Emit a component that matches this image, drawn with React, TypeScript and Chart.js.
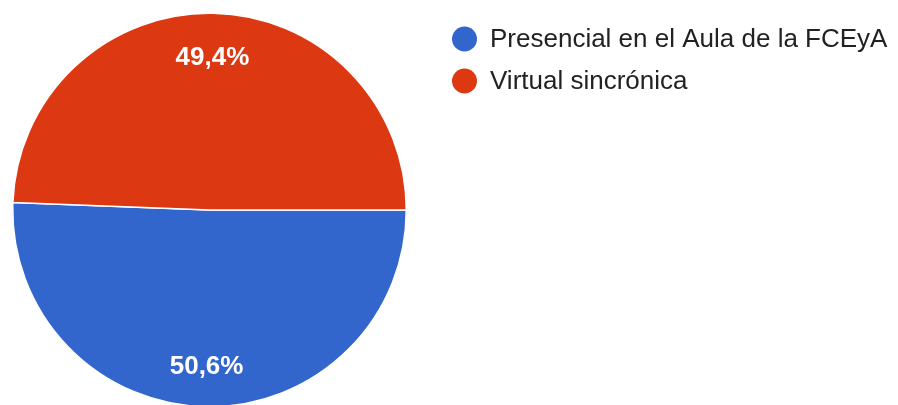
import React, { useEffect, useRef } from "react";
import { Chart, registerables } from "chart.js";

Chart.register(...registerables);

const categories: string[] = ["Presencial en el Aula de la FCEyA", "Virtual sincrónica"];
const values: number[] = [50.6, 49.4];
const colors: string[] = ["#3366cc", "#dc3912"];

const sliceLabelPlugin = {
  id: "sliceLabels",
  afterDatasetsDraw(chart: any) {
    const ctx = chart.ctx;
    const meta = chart.getDatasetMeta(0);
    const data = chart.data.datasets[0].data as number[];
    const total = data.reduce((a, b) => a + b, 0);
    ctx.save();
    ctx.fillStyle = "#ffffff";
    ctx.font = "bold 26px 'Liberation Sans', Arial, sans-serif";
    ctx.textAlign = "center";
    ctx.textBaseline = "middle";
    meta.data.forEach((arc: any, i: number) => {
      const p = arc.getProps(["x", "y", "startAngle", "endAngle", "outerRadius"], true);
      const mid = (p.startAngle + p.endAngle) / 2;
      const r = p.outerRadius * 0.785;
      const x = p.x + r * Math.cos(mid);
      const y = p.y + r * Math.sin(mid) + 2;
      const pct = ((data[i] / total) * 100).toFixed(1).replace(".", ",") + "%";
      ctx.fillText(pct, x, y);
    });
    ctx.restore();
  },
};

const legendPlugin = {
  id: "customLegend",
  afterDraw(chart: any) {
    const ctx = chart.ctx;
    const labels = chart.data.labels as string[];
    const bg = chart.data.datasets[0].backgroundColor as string[];
    ctx.save();
    ctx.font = "26px 'Liberation Sans', Arial, sans-serif";
    ctx.textBaseline = "middle";
    ctx.textAlign = "left";
    labels.forEach((lab, i) => {
      const cy = 39 + i * 42;
      ctx.beginPath();
      ctx.arc(464.5, cy, 12.5, 0, Math.PI * 2);
      ctx.fillStyle = bg[i];
      ctx.fill();
      ctx.fillStyle = "#222222";
      ctx.fillText(lab, 490, cy + 1);
    });
    ctx.restore();
  },
};

export default function App() {
  const canvasRef = useRef<HTMLCanvasElement | null>(null);

  useEffect(() => {
    document.body.style.margin = "0";
    document.body.style.overflow = "hidden";
    const canvas = canvasRef.current;
    if (!canvas) return;
    const chart = new Chart(canvas, {
      type: "pie",
      data: {
        labels: categories,
        datasets: [
          {
            data: values,
            backgroundColor: colors,
            borderColor: "#ffffff",
            borderWidth: 1.5,
          },
        ],
      },
      options: {
        responsive: true,
        maintainAspectRatio: false,
        animation: false,
        rotation: 90,
        layout: { padding: { left: 12, top: 12, right: 491, bottom: 12 } },
        plugins: {
          legend: { display: false },
          tooltip: { enabled: false },
        },
      },
      plugins: [sliceLabelPlugin, legendPlugin],
    });
    return () => chart.destroy();
  }, []);

  return (
    <div style={{ position: "fixed", left: 0, top: 0, width: 898, height: 405, overflow: "hidden", background: "#ffffff" }}>
      <div style={{ position: "relative", width: 898, height: 420 }}>
        <canvas ref={canvasRef} />
      </div>
    </div>
  );
}
